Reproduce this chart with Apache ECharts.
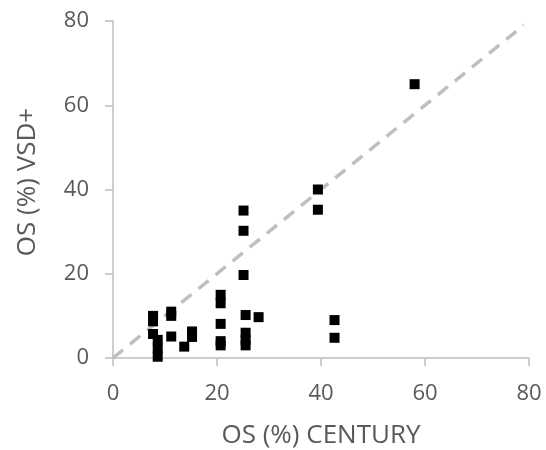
<!DOCTYPE html>
<html><head><meta charset="utf-8">
<script src="https://cdn.jsdelivr.net/npm/echarts@6/dist/echarts.min.js"></script>
<style>html,body{margin:0;padding:0;background:#fff}#c{width:546px;height:450px}</style>
</head><body><div id="c"></div>
<script>
const xTitle = 'OS (%) CENTURY';
const yTitle = 'OS (%) VSD+';
const xTicks = [0, 20, 40, 60, 80];
const yTicks = [0, 20, 40, 60, 80];
const centuryOS = [58, 39.4, 39.4, 25.1, 25.1, 25.1,
  20.7, 20.7, 20.7, 20.7, 20.7,
  25.5, 25.5, 25.5, 25.5, 28,
  42.6, 42.6,
  7.7, 7.7, 7.7, 8.6, 8.6, 8.6,
  11.2, 11.2, 11.2, 13.7, 15.2, 15.2];
const vsdOS = [65, 40, 35.2, 35, 30.2, 19.7,
  15, 13, 8.1, 4, 3,
  10.2, 6, 4.3, 3, 9.7,
  9, 4.8,
  10, 8.7, 5.7, 4.3, 2.3, 0.3,
  11, 10, 5.1, 2.7, 6.3, 5];
const refLineX = [0, 79];
const refLineY = [0, 79];

const chart = echarts.init(document.getElementById('c'));
const font = '"Open Sans", sans-serif';
const axisCommon = {
  type: 'value', min: 0, max: 80, interval: 20,
  axisLine: {show: true, lineStyle: {color: '#bfbfbf', width: 1.5}},
  axisTick: {show: true, length: 8, lineStyle: {color: '#bfbfbf', width: 1.5}},
  splitLine: {show: false},
  axisLabel: {color: '#595959', fontSize: 22, fontFamily: font},
  nameTextStyle: {color: '#595959', fontSize: 26, fontFamily: font},
  nameLocation: 'middle'
};
chart.setOption({
  animation: false,
  grid: {left: 113, right: 17, top: 21, bottom: 92, containLabel: false, outerBoundsMode: 'none'},
  xAxis: Object.assign({}, axisCommon, {name: xTitle, nameGap: 65,
    axisLabel: Object.assign({}, axisCommon.axisLabel, {margin: 25})}),
  yAxis: Object.assign({}, axisCommon, {name: yTitle, nameGap: 72,
    nameTextStyle: Object.assign({}, axisCommon.nameTextStyle, {padding: [0, 0, 0, 15]}),
    axisLabel: Object.assign({}, axisCommon.axisLabel, {margin: 24})}),
  series: [
    {type: 'line', data: refLineX.map((x, i) => [x, refLineY[i]]), symbol: 'none',
     lineStyle: {color: '#bfbfbf', width: 3.5, type: [13, 9]}, z: 1, silent: true},
    {type: 'scatter', data: centuryOS.map((x, i) => [x, vsdOS[i]]), symbol: 'rect',
     symbolSize: 10, itemStyle: {color: '#000', opacity: 1}, z: 2}
  ]
});
</script></body></html>
